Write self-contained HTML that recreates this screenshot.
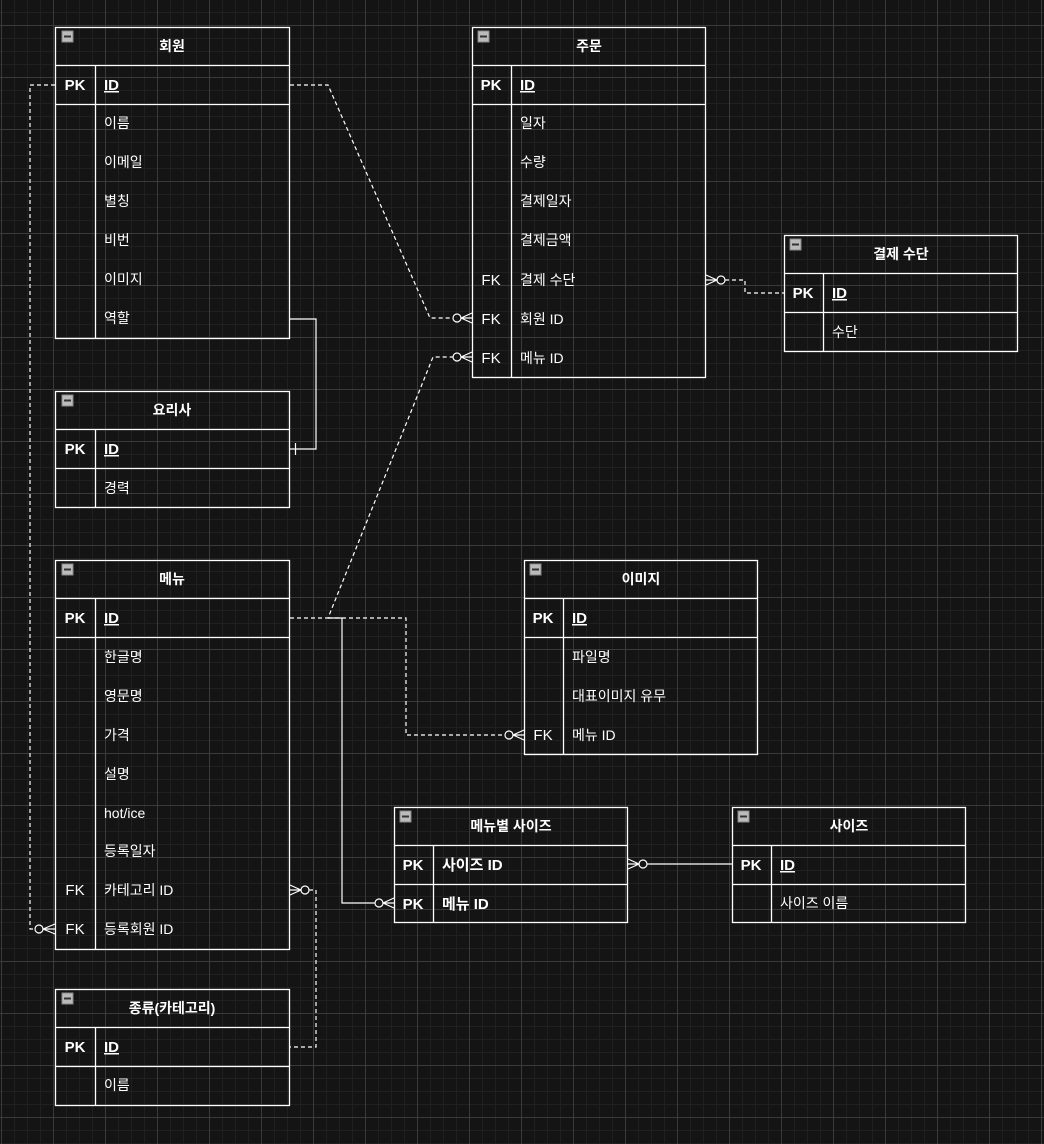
<!DOCTYPE html>
<html><head><meta charset="utf-8"><style>
html,body{margin:0;padding:0}
body{width:1044px;height:1144px;overflow:hidden;background-color:#141414;
background-image:
linear-gradient(#3a3a3a 1px,transparent 1px),
linear-gradient(90deg,#3a3a3a 1px,transparent 1px),
linear-gradient(#202020 1px,transparent 1px),
linear-gradient(90deg,#202020 1px,transparent 1px);
background-size:52px 52px,52px 52px,13px 13px,13px 13px;
background-position:0 25px,1px 0,0 12px,1px 0;
font-family:"Liberation Sans","Noto Sans CJK KR",sans-serif;color:#fff;position:relative}
svg{position:absolute;left:0;top:0}
</style></head><body>
<svg width="1044" height="1144" xmlns="http://www.w3.org/2000/svg" font-family="Liberation Sans, Noto Sans CJK KR, sans-serif" fill="#fff">
<defs>
<g id="mn"><rect x="0" y="0" width="11" height="11" fill="#bbb" stroke="#888"/><rect x="2" y="4.5" width="7" height="2" fill="#333"/></g>
</defs>
<g stroke="#fff" stroke-width="1.3" fill="none">
<!-- tables outlines -->
<!-- 회원 -->
<rect x="55.5" y="27.5" width="234" height="311"/><line x1="55" y1="65.5" x2="290" y2="65.5"/><line x1="55" y1="104.5" x2="290" y2="104.5"/><line x1="95.5" y1="65" x2="95.5" y2="338"/>
<!-- 주문 -->
<rect x="472.5" y="27.5" width="233" height="350"/><line x1="472" y1="65.5" x2="706" y2="65.5"/><line x1="472" y1="104.5" x2="706" y2="104.5"/><line x1="511.5" y1="65" x2="511.5" y2="377"/>
<!-- 결제 수단 -->
<rect x="784.5" y="235.5" width="233" height="116"/><line x1="784" y1="273.5" x2="1018" y2="273.5"/><line x1="784" y1="312.5" x2="1018" y2="312.5"/><line x1="823.5" y1="273" x2="823.5" y2="351"/>
<!-- 요리사 -->
<rect x="55.5" y="391.5" width="234" height="116"/><line x1="55" y1="429.5" x2="290" y2="429.5"/><line x1="55" y1="468.5" x2="290" y2="468.5"/><line x1="95.5" y1="429" x2="95.5" y2="507"/>
<!-- 메뉴 -->
<rect x="55.5" y="560.5" width="234" height="389"/><line x1="55" y1="598.5" x2="290" y2="598.5"/><line x1="55" y1="637.5" x2="290" y2="637.5"/><line x1="95.5" y1="598" x2="95.5" y2="949"/>
<!-- 이미지 -->
<rect x="524.5" y="560.5" width="233" height="194"/><line x1="524" y1="598.5" x2="758" y2="598.5"/><line x1="524" y1="637.5" x2="758" y2="637.5"/><line x1="563.5" y1="598" x2="563.5" y2="754"/>
<!-- 메뉴별 사이즈 -->
<rect x="394.5" y="807.5" width="233" height="115"/><line x1="394" y1="845.5" x2="628" y2="845.5"/><line x1="394" y1="884.5" x2="628" y2="884.5"/><line x1="433.5" y1="845" x2="433.5" y2="922"/>
<!-- 사이즈 -->
<rect x="732.5" y="807.5" width="233" height="115"/><line x1="732" y1="845.5" x2="966" y2="845.5"/><line x1="732" y1="884.5" x2="966" y2="884.5"/><line x1="771.5" y1="845" x2="771.5" y2="922"/>
<!-- 종류 -->
<rect x="55.5" y="989.5" width="234" height="116"/><line x1="55" y1="1027.5" x2="290" y2="1027.5"/><line x1="55" y1="1066.5" x2="290" y2="1066.5"/><line x1="95.5" y1="1027" x2="95.5" y2="1105"/>
</g>
<!-- connectors -->
<g stroke="#fff" stroke-width="1.2" fill="none">
<g stroke-dasharray="4,3">
<polyline points="290,85 328,85 430,318 453,318"/>
<polyline points="55,85 30,85 30,929 34,929"/>
<polyline points="290,618 328,618 433,357 453,357"/>
<polyline points="328,618 406,618 406,735 505,735"/>
<polyline points="725,280 745,280 745,293 784,293"/>
<polyline points="309,890 316,890 316,1047 290,1047"/>
</g>
<polyline points="290,319 316,319 316,449 290,449"/>
<line x1="295.5" y1="443" x2="295.5" y2="455"/>
<polyline points="328,618 342,618 342,903 375,903"/>
<line x1="647" y1="864" x2="732" y2="864"/>
<!-- crowfoots: left-facing (end at table left edge) -->
<g>
<circle cx="457" cy="318" r="4"/><path d="M461,318 L472,313 M461,318 L472,318 M461,318 L472,323"/>
<circle cx="457" cy="357" r="4"/><path d="M461,357 L472,352 M461,357 L472,357 M461,357 L472,362"/>
<circle cx="39" cy="929" r="4"/><path d="M43,929 L55,924 M43,929 L55,929 M43,929 L55,934"/>
<circle cx="509" cy="735" r="4"/><path d="M513,735 L524,730 M513,735 L524,735 M513,735 L524,740"/>
<circle cx="379" cy="903" r="4"/><path d="M383,903 L394,898 M383,903 L394,903 M383,903 L394,908"/>
<!-- right-facing -->
<circle cx="721" cy="280" r="4"/><path d="M717,280 L706,275 M717,280 L706,280 M717,280 L706,285"/>
<circle cx="643" cy="864" r="4"/><path d="M639,864 L628,859 M639,864 L628,864 M639,864 L628,869"/>
<circle cx="305" cy="890" r="4"/><path d="M301,890 L290,885 M301,890 L290,890 M301,890 L290,895"/>
</g>
</g>
<!-- minus icons -->
<use href="#mn" x="62" y="31"/><use href="#mn" x="478" y="31"/><use href="#mn" x="790" y="239"/>
<use href="#mn" x="62" y="395"/><use href="#mn" x="62" y="564"/><use href="#mn" x="530" y="564"/>
<use href="#mn" x="400" y="811"/><use href="#mn" x="738" y="811"/><use href="#mn" x="62" y="993"/>
<!-- text -->
<g font-size="14" font-weight="bold" text-anchor="middle">
<text x="172" y="51">회원</text><text x="589" y="51">주문</text><text x="901" y="259">결제 수단</text>
<text x="172" y="415">요리사</text><text x="172" y="584">메뉴</text><text x="641" y="584">이미지</text>
<text x="511" y="831">메뉴별 사이즈</text><text x="849" y="831">사이즈</text><text x="172" y="1013">종류(카테고리)</text>
</g>
<g font-size="15" font-weight="bold" text-anchor="middle">
<text x="75" y="90">PK</text><text x="491" y="90">PK</text><text x="803" y="298">PK</text>
<text x="75" y="454">PK</text><text x="75" y="623">PK</text><text x="543" y="623">PK</text>
<text x="413" y="870">PK</text><text x="413" y="909">PK</text><text x="751" y="870">PK</text><text x="75" y="1052">PK</text>
</g>
<g font-size="15" font-weight="bold" text-decoration="underline">
<text x="104" y="90">ID</text><text x="520" y="90">ID</text><text x="832" y="298">ID</text>
<text x="104" y="454">ID</text><text x="104" y="623">ID</text><text x="572" y="623">ID</text>
<text x="780" y="870">ID</text><text x="104" y="1052">ID</text>
</g>
<g font-size="15" font-weight="bold"><text x="442" y="870">사이즈 ID</text><text x="442" y="909">메뉴 ID</text></g>
<g font-size="15" text-anchor="middle">
<text x="491" y="285">FK</text><text x="491" y="324">FK</text><text x="491" y="363">FK</text>
<text x="75" y="895">FK</text><text x="75" y="934">FK</text><text x="543" y="740">FK</text>
</g>
<g font-size="14">
<text x="104" y="128">이름</text><text x="104" y="167">이메일</text><text x="104" y="206">별칭</text><text x="104" y="245">비번</text><text x="104" y="284">이미지</text><text x="104" y="323">역할</text>
<text x="520" y="128">일자</text><text x="520" y="167">수량</text><text x="520" y="206">결제일자</text><text x="520" y="245">결제금액</text><text x="520" y="285">결제 수단</text><text x="520" y="324">회원 ID</text><text x="520" y="363">메뉴 ID</text>
<text x="832" y="337">수단</text>
<text x="104" y="493">경력</text>
<text x="104" y="662">한글명</text><text x="104" y="701">영문명</text><text x="104" y="740">가격</text><text x="104" y="779">설명</text><text x="104" y="818">hot/ice</text><text x="104" y="856">등록일자</text><text x="104" y="895">카테고리 ID</text><text x="104" y="934">등록회원 ID</text>
<text x="572" y="662">파일명</text><text x="572" y="701">대표이미지 유무</text><text x="572" y="740">메뉴 ID</text>
<text x="780" y="908">사이즈 이름</text>
<text x="104" y="1090">이름</text>
</g>
</svg>
</body></html>
